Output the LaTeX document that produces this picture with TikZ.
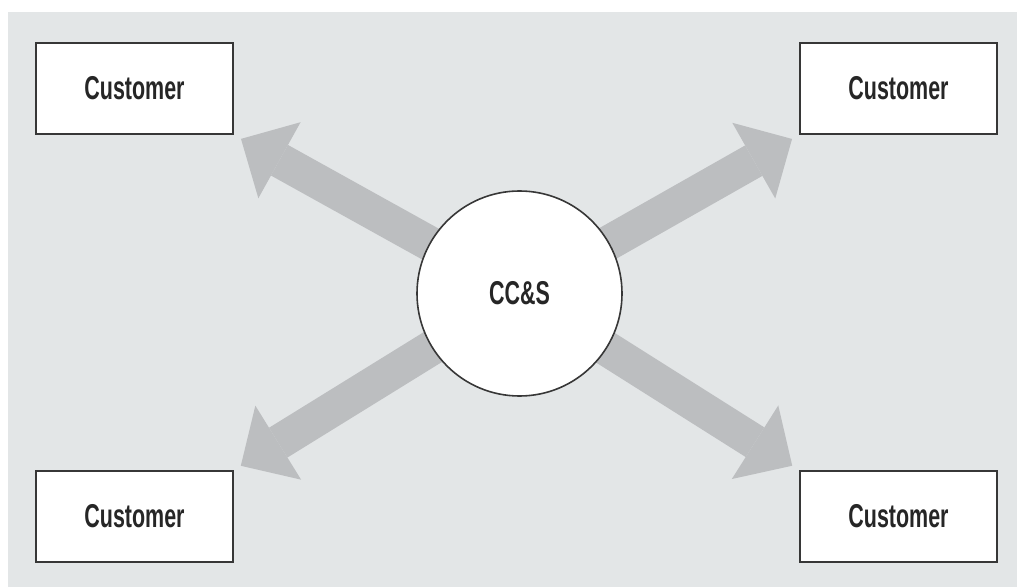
\documentclass[tikz,border=0pt]{standalone}
\usepackage{fontspec}
\newfontfamily\condfont[FakeStretch=0.65]{Liberation Sans}
\usetikzlibrary{arrows.meta}
\definecolor{mybackgray}{RGB}{227,230,231}
\definecolor{myarrowgray}{RGB}{188,190,192}
\definecolor{myedgegray}{RGB}{55,55,55}

\begin{document}
\begin{tikzpicture}[
  x=1pt, y=1pt,
  mylabel/.style={font=\condfont\bfseries\fontsize{33}{36}\selectfont, text=black!85},
  mybox/.style={
    draw=myedgegray,
    line width=2pt,
    fill=white,
    minimum width=197pt,
    minimum height=91pt,
    inner sep=0pt,
    mylabel
    },
  mycircle/.style={
    circle,
    draw=myedgegray,
    line width=1.6pt,
    fill=white,
    minimum size=205pt,
    inner sep=0pt,
    mylabel
    },
  myarrow/.style={
    draw=myarrowgray,
    fill=myarrowgray,
    line width=35pt,
    -{Triangle[length=44pt, width=87pt, line width=0pt]},
    shorten >=8pt
    }
]
\useasboundingbox (0,0) rectangle (1017,587);
\fill [mybackgray] (8,0) rectangle (1017,575);

% the four customers
\node [mybox] (tl) at (134.5,498.5) {Customer};
\node [mybox] (tr) at (898.5,498.5) {Customer};
\node [mybox] (bl) at (134.5,70.5) {Customer};
\node [mybox] (br) at (898.5,70.5) {Customer};

% arrows out of the hub
\coordinate (hub) at (519.5,293.5);
\draw [myarrow] (hub) -- (tl.south east);
\draw [myarrow] (hub) -- (tr.south west);
\draw [myarrow] (hub) -- (bl.north east);
\draw [myarrow] (hub) -- (br.north west);

\node [mycircle] (ccs) at (hub) {CC\&S};

\end{tikzpicture}
\end{document}
